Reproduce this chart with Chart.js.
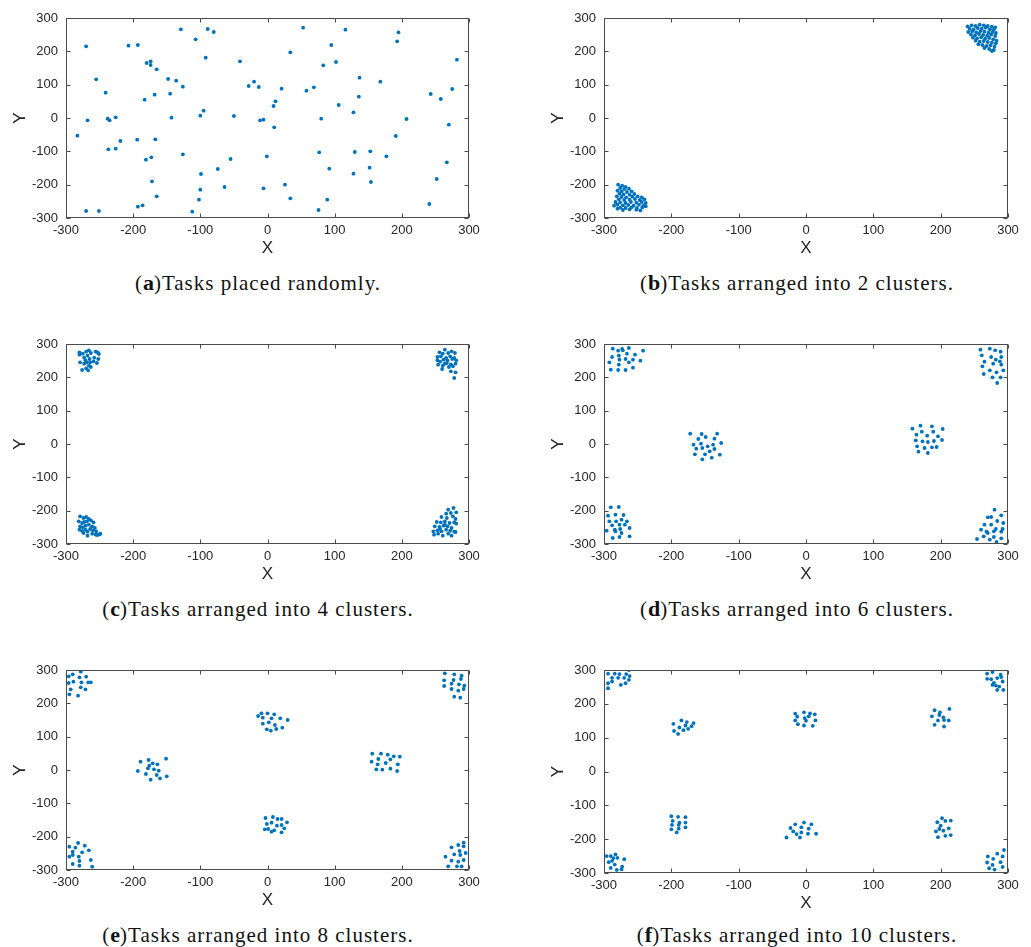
<!DOCTYPE html>
<html>
<head>
<meta charset="utf-8">
<script src="https://cdn.jsdelivr.net/npm/chart.js@4/dist/chart.umd.min.js"></script>
<style>
  body { margin: 0; background: #fff; }
  #page { position: relative; width: 1031px; height: 947px; overflow: hidden; }
  canvas { position: absolute; }
  .caption {
    position: absolute;
    width: 500px;
    text-align: center;
    font-family: "Liberation Serif", "DejaVu Serif", serif;
    font-size: 21px;
    letter-spacing: 1px;
    line-height: 24px;
    color: #111;
    white-space: nowrap;
  }
  .caption b { font-size: 22px; letter-spacing: 0; }
</style>
</head>
<body>
<div id="page"></div>
<script>
// task positions, [x, y]
const tasksRandom = [
  [-270, 215], [-255, 116], [-241, 76], [-268, -7], [-283, -53], [-270, -279], [-251, -279],
  [-238, -2], [-235, -7], [-226, 2], [-219, -69], [-237, -94], [-226, -92], [-207, 217],
  [-193, 219], [-180, 165], [-174, 170], [-174, 159], [-165, 146], [-183, 55], [-168, 70],
  [-194, -65], [-167, -64], [-173, -118], [-181, -125], [-172, -190], [-165, -235], [-193, -266],
  [-186, -262], [-148, 117], [-136, 112], [-145, 73], [-126, 94], [-143, 1], [-129, 266],
  [-107, 236], [-89, 267], [-80, 258], [-92, 181], [-95, 22], [-100, 7], [-126, -109],
  [-99, -168], [-100, -215], [-102, -245], [-112, -281], [-74, -153], [-55, -123], [-64, -207],
  [-50, 6], [-41, 170], [-28, 96], [-20, 109], [-13, 93], [-11, -7], [-6, -5], [-1, -115],
  [-6, -211], [9, 36], [12, 50], [10, -28], [21, 88], [34, 197], [53, 271], [58, 82], [69, 92],
  [26, -200], [34, -241], [76, -276], [77, -103], [80, -2], [83, 158], [95, 219], [102, 168],
  [106, 39], [92, -152], [89, -245], [116, 265], [137, 121], [136, 64], [128, 17], [130, -102],
  [128, -167], [153, -100], [152, -149], [154, -192], [168, 109], [177, -115], [191, -54],
  [193, 230], [195, 257], [207, -3], [243, 72], [258, 57], [275, 87], [282, 175], [270, -20],
  [267, -133], [252, -183], [241, -258]
];

const tasks2Clusters = [
  [-279, -200], [-273, -203], [-268, -207], [-276, -210], [-270, -213], [-263, -212], [-280, -218],
  [-274, -220], [-266, -222], [-259, -220], [-277, -227], [-271, -229], [-262, -230], [-255, -228],
  [-281, -235], [-274, -237], [-267, -238], [-258, -236], [-250, -235], [-244, -238], [-278, -244],
  [-270, -246], [-262, -245], [-254, -243], [-247, -246], [-240, -244], [-283, -252], [-276, -253],
  [-268, -255], [-260, -252], [-252, -254], [-244, -252], [-238, -255], [-280, -260], [-272, -262],
  [-264, -261], [-256, -263], [-248, -260], [-241, -262], [-285, -263], [-276, -269], [-268, -270],
  [-259, -268], [-251, -270], [-243, -268], [-238, -265], [-280, -272], [-272, -276], [-262, -274],
  [-252, -275], [-246, -277],
  [240, 275], [246, 278], [252, 276], [258, 280], [264, 278], [270, 276], [276, 274], [281, 272],
  [243, 268], [249, 266], [255, 270], [261, 268], [267, 271], [273, 266], [279, 265], [241, 258],
  [247, 260], [253, 257], [259, 261], [265, 259], [271, 256], [277, 258], [282, 255], [245, 250],
  [251, 248], [257, 252], [263, 249], [269, 247], [275, 250], [281, 246], [248, 241], [254, 239],
  [260, 242], [266, 238], [272, 240], [278, 236], [283, 232], [252, 232], [258, 229], [264, 231],
  [270, 228], [276, 226], [282, 224], [256, 221], [262, 219], [268, 216], [274, 218], [280, 214],
  [265, 210], [272, 207], [279, 204], [276, 201]
];

const tasks4Clusters = [
  [-280, 275], [-280, 268], [-275, 271], [-270, 277], [-266, 281], [-263, 273], [-256, 277],
  [-253, 275], [-251, 270], [-273, 259], [-268, 265], [-265, 255], [-258, 259], [-252, 255],
  [-279, 245], [-273, 241], [-269, 245], [-264, 245], [-259, 248], [-254, 243], [-276, 222],
  [-270, 227], [-267, 221], [-263, 231], [-266, 235], [-271, 251],
  [-279, -217], [-274, -222], [-270, -219], [-266, -225], [-281, -232], [-276, -237], [-273, -234],
  [-269, -232], [-263, -229], [-259, -235], [-279, -247], [-275, -250], [-271, -245], [-266, -242],
  [-261, -247], [-257, -252], [-280, -257], [-276, -261], [-271, -257], [-268, -263], [-264, -255],
  [-260, -259], [-255, -262], [-249, -269], [-274, -267], [-268, -275], [-261, -269], [-256, -272],
  [-253, -273], [-250, -271],
  [264, 283], [256, 275], [261, 271], [269, 273], [274, 278], [279, 273], [253, 261], [258, 263],
  [266, 258], [272, 263], [278, 258], [253, 251], [257, 247], [262, 253], [268, 251], [275, 255],
  [281, 251], [254, 238], [261, 235], [267, 243], [273, 239], [280, 241], [260, 225], [270, 231],
  [276, 233], [273, 218], [280, 215], [278, 198], [264, 241],
  [277, -192], [269, -197], [281, -205], [266, -209], [273, -207], [259, -219], [267, -222],
  [276, -217], [280, -225], [252, -234], [258, -235], [264, -232], [271, -237], [278, -235],
  [249, -247], [256, -249], [262, -245], [268, -247], [274, -252], [281, -239], [247, -262],
  [253, -259], [259, -262], [266, -257], [272, -260], [278, -263], [248, -272], [254, -269],
  [261, -275], [269, -269], [274, -275], [280, -264], [257, -255], [264, -242]
];

const tasks6Clusters = [
  [-287, 286], [-273, 285], [-263, 288], [-279, 280], [-272, 281], [-292, 245], [-288, 261],
  [-278, 265], [-266, 271], [-254, 268], [-242, 280], [-277, 253], [-268, 255], [-257, 253],
  [-263, 245], [-246, 250], [-278, 238], [-290, 223], [-279, 222], [-268, 222], [-257, 229],
  [259, 283], [273, 286], [281, 281], [289, 277], [261, 266], [275, 261], [290, 261], [265, 247],
  [282, 253], [288, 248], [278, 241], [290, 238], [262, 233], [273, 221], [283, 215], [293, 221],
  [264, 210], [277, 200], [289, 200], [284, 183],
  [-172, 31], [-155, 30], [-132, 31], [-160, 15], [-149, 21], [-136, 16], [-167, -2], [-156, 1],
  [-126, 3], [-163, -14], [-154, -12], [-146, -7], [-138, -2], [-165, -31], [-150, -31],
  [-143, -22], [-136, -15], [-128, -32], [-154, -46], [-140, -41],
  [158, 46], [170, 55], [187, 53], [203, 45], [164, 28], [172, 37], [180, 25], [189, 37],
  [196, 23], [163, 11], [173, 8], [181, 6], [190, 9], [202, 12], [165, -7], [176, -12],
  [187, -10], [194, -9], [167, -23], [181, -27],
  [-290, -190], [-278, -189], [-294, -215], [-283, -212], [-271, -213], [-292, -232], [-282, -232],
  [-274, -227], [-266, -232], [-288, -244], [-277, -242], [-269, -242], [-296, -260], [-284, -257],
  [-283, -262], [-276, -255], [-262, -252], [-274, -267], [-287, -282], [-277, -279], [-262, -277],
  [280, -197], [270, -220], [275, -219], [290, -214], [265, -242], [275, -242], [284, -231],
  [293, -237], [260, -257], [268, -263], [279, -262], [282, -255], [292, -255], [270, -267],
  [290, -263], [254, -285], [264, -277], [273, -287], [279, -279], [290, -283], [283, -294]
];

const tasks8Clusters = [
  [-296, 281], [-290, 287], [-278, 295], [-296, 261], [-289, 265], [-280, 278], [-277, 263],
  [-270, 280], [-267, 263], [-263, 263], [-293, 242], [-278, 248], [-271, 242], [-295, 227],
  [-282, 223],
  [264, 290], [278, 287], [289, 283], [263, 269], [277, 270], [288, 273], [274, 259], [285, 257],
  [263, 252], [293, 253], [274, 243], [284, 238], [292, 243], [278, 220], [287, 217],
  [-14, 162], [-9, 170], [0, 170], [10, 167], [-7, 157], [6, 155], [19, 155], [30, 150], [2, 143],
  [-7, 139], [11, 135], [-1, 122], [5, 118], [13, 123], [22, 127],
  [-193, -3], [-189, 25], [-177, 30], [-171, 20], [-164, 17], [-151, 34], [-178, 5], [-176, 13],
  [-169, 2], [-162, -2], [-181, -12], [-165, -15], [-150, -19], [-174, -29], [-160, -25],
  [156, 49], [169, 49], [179, 46], [188, 41], [197, 40], [165, 33], [155, 25], [183, 32], [164, 17],
  [176, 21], [194, 17], [162, 2], [171, 1], [183, 4], [193, -3],
  [-3, -144], [8, -141], [15, -147], [21, -147], [-1, -162], [6, -158], [14, -167], [21, -165],
  [29, -157], [-4, -178], [1, -177], [10, -181], [6, -185], [25, -175], [21, -187],
  [-282, -219], [-295, -230], [-286, -233], [-272, -227], [-266, -241], [-290, -245], [-276, -247],
  [-295, -260], [-290, -255], [-281, -260], [-263, -270], [-280, -273], [-290, -282], [-280, -287],
  [-261, -290],
  [292, -218], [284, -225], [274, -232], [292, -229], [286, -243], [278, -253], [287, -255],
  [295, -249], [265, -260], [274, -272], [284, -275], [292, -270], [269, -289], [282, -289],
  [289, -289]
];

const tasks10Clusters = [
  [-294, 289], [-284, 289], [-277, 288], [-267, 288], [-288, 277], [-279, 277], [-270, 277],
  [-262, 282], [-263, 300], [-294, 261], [-288, 266], [-275, 256], [-268, 261], [-263, 271],
  [-294, 246],
  [269, 289], [277, 294], [289, 286], [269, 274], [275, 273], [284, 276], [292, 266], [279, 262],
  [277, 256], [282, 254], [287, 251], [284, 241], [293, 241], [290, 279],
  [-185, 151], [-177, 146], [-167, 143], [-197, 141], [-179, 136], [-188, 130], [-170, 134],
  [-196, 120], [-182, 122], [-175, 126], [-190, 111],
  [-16, 171], [-3, 175], [6, 172], [13, 169], [-13, 162], [4, 163], [-16, 151], [0, 150],
  [14, 151], [-12, 140], [-3, 136], [10, 135], [-2, 158],
  [191, 181], [199, 175], [213, 185], [187, 163], [198, 167], [204, 160], [196, 151], [205, 152],
  [212, 151], [191, 138], [205, 133],
  [-200, -132], [-190, -134], [-179, -135], [-198, -146], [-188, -151], [-179, -151], [-199, -158],
  [-189, -158], [-200, -171], [-189, -169], [-179, -165], [-192, -180],
  [-3, -151], [8, -156], [-16, -156], [-23, -167], [-7, -165], [4, -169], [-19, -177], [-14, -185],
  [-7, -180], [3, -184], [15, -184], [-29, -195], [-9, -195],
  [202, -138], [207, -146], [215, -145], [195, -150], [200, -160], [212, -168], [193, -177],
  [204, -175], [196, -194], [207, -190], [215, -188], [198, -170],
  [-296, -250], [-290, -250], [-283, -245], [-280, -255], [-288, -264], [-293, -268], [-270, -259],
  [-284, -275], [-290, -285], [-281, -291], [-273, -281], [-274, -289], [-286, -256],
  [294, -232], [284, -243], [270, -251], [292, -251], [278, -258], [269, -269], [289, -268],
  [277, -276], [272, -286], [292, -282], [280, -290]
];

const panelLetters = ["a", "b", "c", "d", "e", "f"];
const panelCaptions = [
  "Tasks placed randomly.",
  "Tasks arranged into 2 clusters.",
  "Tasks arranged into 4 clusters.",
  "Tasks arranged into 6 clusters.",
  "Tasks arranged into 8 clusters.",
  "Tasks arranged into 10 clusters."
];
const panelData = [tasksRandom, tasks2Clusters, tasks4Clusters, tasks6Clusters, tasks8Clusters, tasks10Clusters];

const axisMin = -300;
const axisMax = 300;
const tickStep = 100;

// placement of each panel on the page
const layout = [
  { left: 0, top: 0, plotH: 200, padRight: 21, capX: 258, capY: 283 },
  { left: 538, top: 0, plotH: 200, padRight: 20, capX: 797, capY: 283 },
  { left: 0, top: 326, plotH: 200, padRight: 21, capX: 258, capY: 609 },
  { left: 538, top: 326, plotH: 200, padRight: 20, capX: 797, capY: 609 },
  { left: 0, top: 652, plotH: 200, padRight: 21, capX: 258, capY: 935 },
  { left: 538, top: 652, plotH: 203, padRight: 20, capX: 797, capY: 935 }
];

const tickFont = { family: "'Liberation Sans', Helvetica, Arial, sans-serif", size: 13 };
const textColor = "#262626";

// MATLAB style frame: full box with ticks pointing inward on all four sides
const boxPlugin = {
  id: "boxFrame",
  afterDraw(chart) {
    const { ctx, chartArea: a, scales } = chart;
    const l = Math.round(a.left) + 0.5;
    const r = Math.round(a.right) - 0.5;
    const t = Math.round(a.top) + 0.5;
    const b = Math.round(a.bottom) - 0.5;
    ctx.save();
    ctx.strokeStyle = "#4a4a4a";
    ctx.lineWidth = 1;
    ctx.strokeRect(l, t, r - l, b - t);
    ctx.beginPath();
    scales.x.ticks.forEach((tick, i) => {
      const px = Math.round(scales.x.getPixelForTick(i)) + 0.5;
      ctx.moveTo(px, b);
      ctx.lineTo(px, b - 4);
      ctx.moveTo(px, t);
      ctx.lineTo(px, t + 4);
    });
    scales.y.ticks.forEach((tick, i) => {
      const py = Math.round(scales.y.getPixelForTick(i)) + 0.5;
      ctx.moveTo(l, py);
      ctx.lineTo(l + 4, py);
      ctx.moveTo(r, py);
      ctx.lineTo(r - 4, py);
    });
    ctx.stroke();
    ctx.restore();
  }
};

function makeAxis(title, isX) {
  return {
    type: "linear",
    min: axisMin,
    max: axisMax,
    grid: { display: false, drawTicks: false },
    border: { display: false },
    ticks: {
      stepSize: tickStep,
      color: textColor,
      font: tickFont,
      padding: isX ? 5 : 8,
      maxRotation: 0,
      autoSkip: false
    },
    title: {
      display: true,
      text: title,
      color: textColor,
      font: { family: tickFont.family, size: 17 },
      padding: isX ? { top: 0, bottom: 1 } : { top: 10, bottom: 0 }
    },
    afterFit(scale) {
      if (isX) {
        scale.height = 42;
      } else {
        scale.width = 66;
      }
    }
  };
}

const page = document.getElementById("page");

panelData.forEach((points, i) => {
  const pos = layout[i];
  const canvas = document.createElement("canvas");
  canvas.width = 490;
  canvas.height = 18 + pos.plotH + 42;
  canvas.style.left = pos.left + "px";
  canvas.style.top = pos.top + "px";
  page.appendChild(canvas);

  new Chart(canvas, {
    type: "scatter",
    data: {
      datasets: [
        {
          data: points.map(([x, y]) => ({ x, y })),
          backgroundColor: "#0072BD",
          borderWidth: 0,
          pointRadius: 1.9,
          pointHoverRadius: 1.9
        }
      ]
    },
    options: {
      responsive: false,
      animation: false,
      layout: { padding: { top: 18, right: pos.padRight, bottom: 0, left: 0 } },
      plugins: { legend: { display: false }, tooltip: { enabled: false } },
      scales: {
        x: makeAxis("X", true),
        y: makeAxis("Y", false)
      }
    },
    plugins: [boxPlugin]
  });

  const cap = document.createElement("div");
  cap.className = "caption";
  cap.style.left = (pos.capX - 250) + "px";
  cap.style.top = (pos.capY - 12) + "px";
  cap.innerHTML = `(<b>${panelLetters[i]}</b>)${panelCaptions[i]}`;
  page.appendChild(cap);
});
</script>
</body>
</html>
